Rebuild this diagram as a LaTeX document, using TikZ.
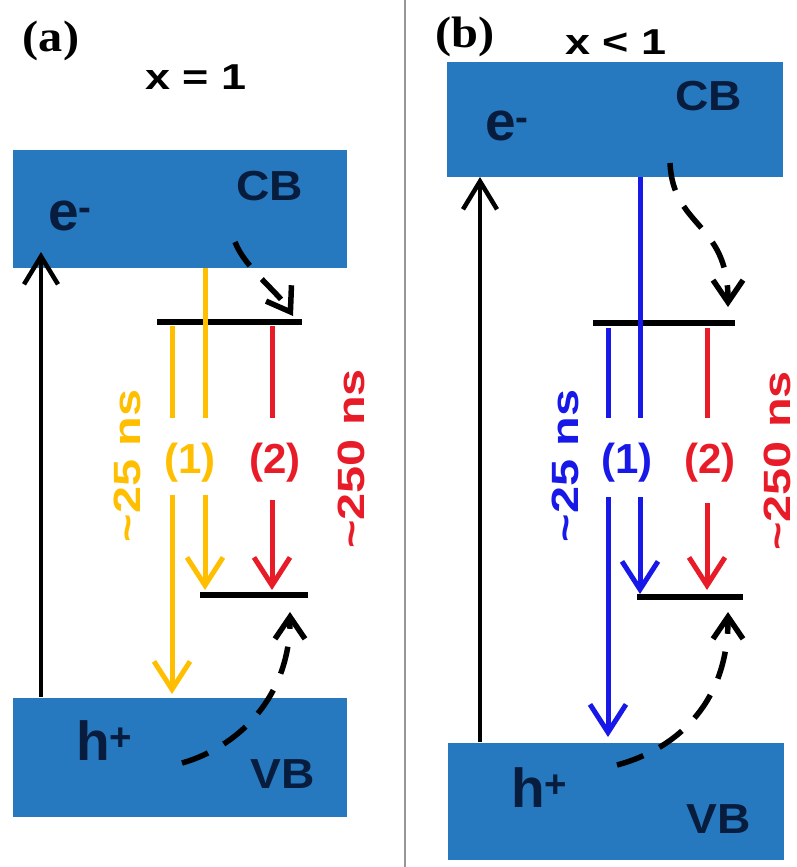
\documentclass[tikz,border=0pt]{standalone}
\usepackage{fontspec}
\setmainfont{Liberation Sans}
\newfontfamily\panelfont{Liberation Serif}
\usepackage{tikz}
\usetikzlibrary{arrows.meta}
\definecolor{band}{RGB}{38,121,191}
\definecolor{bandtxt}{RGB}{8,28,62}
\definecolor{yl}{RGB}{255,190,0}
\definecolor{rd}{RGB}{232,28,40}
\definecolor{bl}{RGB}{24,24,232}
\definecolor{divider}{RGB}{150,150,150}
\tikzstyle{bandbox}=[rectangle, fill=band, inner sep=0pt]
\tikzstyle{bandlab}=[inner sep=0pt, anchor=base west, text=bandtxt, xscale=1.1,
  font=\fontsize{42}{42}\selectfont\bfseries]
\tikzstyle{carrier}=[inner sep=0pt, anchor=base west, text=bandtxt,
  font=\fontsize{55}{55}\selectfont\bfseries]
\tikzstyle{panellab}=[inner sep=0pt, xscale=1.1, font=\panelfont\fontsize{44}{44}\selectfont\bfseries]
\tikzstyle{condlab}=[inner sep=0pt, anchor=base, xscale=1.25, font=\fontsize{36}{36}\selectfont\bfseries]
\tikzstyle{numlab}=[inner sep=0pt, font=\fontsize{42}{42}\selectfont\bfseries]
\tikzstyle{timelab}=[inner sep=0pt, rotate=90, xscale=1.28, font=\fontsize{38}{38}\selectfont\bfseries]
\tikzstyle{level}=[line width=6pt]
\tikzstyle{pump}=[line width=4.5pt, -{Straight Barb[length=28pt,width=34pt]}]
\tikzstyle{decay}=[line width=5pt]
\tikzstyle{decaytip}=[line width=5pt, -{Straight Barb[length=28pt,width=36pt]}]
\tikzstyle{capture}=[line width=5.5pt, dash pattern=on 28pt off 18pt, -{Straight Barb[length=22pt,width=30pt]}]

\begin{document}
\begin{tikzpicture}[x=1pt, y=-1pt]
  \useasboundingbox (0,0) rectangle (797,867);

  % divider
  \coordinate (divtop) at (405,0);
  \coordinate (divbot) at (405,867);
  \draw[divider, line width=1.2pt] (divtop) -- (divbot);

  %%%%% (a)
  \node[panellab] (pa) at (51,41) {(a)};
  \node[condlab] (xa) at (196,89) {x = 1};

  \node[bandbox, minimum width=334pt, minimum height=118pt] (cbA) at (180,209) {};
  \node[bandbox, minimum width=334pt, minimum height=119pt] (vbA) at (180,757.5) {};
  \node[carrier] (eA) at (48,230) {e\textsuperscript{-}};
  \node[bandlab] (cbtA) at (236,200) {CB};
  \node[carrier] (hA) at (76,760) {h\textsuperscript{+}};
  \node[bandlab] (vbtA) at (250,788) {VB};

  % levels
  \coordinate (tuA1) at (157,322);
  \coordinate (tuA2) at (302,322);
  \coordinate (tlA1) at (200,595);
  \coordinate (tlA2) at (308,595);
  \draw[level] (tuA1) -- (tuA2);
  \draw[level] (tlA1) -- (tlA2);

  % excitation
  \coordinate (exA1) at (41,697);
  \coordinate (exA2) at (41,252);
  \draw[pump] (exA1) -- (exA2);

  % (1) and (2)
  \coordinate (y1a) at (172,326);
  \coordinate (y1b) at (172,418);
  \coordinate (y1c) at (172,495);
  \coordinate (y1d) at (172,694);
  \coordinate (y2a) at (205,268);
  \coordinate (y2b) at (205,418);
  \coordinate (y2c) at (205,495);
  \coordinate (y2d) at (205,590);
  \coordinate (r1a) at (272,326);
  \coordinate (r1b) at (272,418);
  \coordinate (r1c) at (272,500);
  \coordinate (r1d) at (272,590);

  \foreach \a/\b in {y1a/y1b, y2a/y2b}
    \draw[decay, yl] (\a) -- (\b);
  \foreach \a/\b in {y1c/y1d, y2c/y2d}
    \draw[decaytip, yl] (\a) -- (\b);
  \draw[decay, rd] (r1a) -- (r1b);
  \draw[decaytip, rd] (r1c) -- (r1d);

  \node[numlab, text=yl] (n1A) at (190,463) {(1)};
  \node[numlab, text=rd] (n2A) at (275,463) {(2)};
  \node[timelab, text=yl] (tA1) at (127,466) {\textasciitilde25 ns};
  \node[timelab, text=rd] (tA2) at (351,459) {\textasciitilde250 ns};

  % trapping
  \coordinate (dA1) at (235,242);
  \coordinate (dA2) at (293,316);
  \coordinate (dA3) at (182,763);
  \coordinate (dA4) at (290,612);
  \draw[capture] (dA1) .. controls (245,268) and (278,292) .. (dA2);
  \draw[capture] (dA3) .. controls (235,748) and (290,700) .. (dA4);

  %%%%% (b)
  \node[panellab] (pb) at (465,37) {(b)};
  \node[condlab] (xb) at (616,55) {x < 1};

  \node[bandbox, minimum width=336pt, minimum height=115pt] (cbB) at (615,119.5) {};
  \node[bandbox, minimum width=336pt, minimum height=117pt] (vbB) at (615.5,801.5) {};
  \node[carrier] (eB) at (485,140) {e\textsuperscript{-}};
  \node[bandlab] (cbtB) at (675,110) {CB};
  \node[carrier] (hB) at (511,807) {h\textsuperscript{+}};
  \node[bandlab] (vbtB) at (686,833) {VB};

  % levels
  \coordinate (tuB1) at (593,323);
  \coordinate (tuB2) at (735,323);
  \coordinate (tlB1) at (637,597);
  \coordinate (tlB2) at (743,597);
  \draw[level] (tuB1) -- (tuB2);
  \draw[level] (tlB1) -- (tlB2);

  % excitation
  \coordinate (exB1) at (480,742);
  \coordinate (exB2) at (480,177);
  \draw[pump] (exB1) -- (exB2);

  % (1) and (2)
  \coordinate (b1a) at (608,328);
  \coordinate (b1b) at (608,418);
  \coordinate (b1c) at (608,497);
  \coordinate (b1d) at (608,737);
  \coordinate (b2a) at (640,177);
  \coordinate (b2b) at (640,418);
  \coordinate (b2c) at (640,497);
  \coordinate (b2d) at (640,594);
  \coordinate (r2a) at (707,328);
  \coordinate (r2b) at (707,418);
  \coordinate (r2c) at (707,503);
  \coordinate (r2d) at (707,590);

  \foreach \a/\b in {b1a/b1b, b2a/b2b}
    \draw[decay, bl] (\a) -- (\b);
  \foreach \a/\b in {b1c/b1d, b2c/b2d}
    \draw[decaytip, bl] (\a) -- (\b);
  \draw[decay, rd] (r2a) -- (r2b);
  \draw[decaytip, rd] (r2c) -- (r2d);

  \node[numlab, text=bl] (n1B) at (627,463) {(1)};
  \node[numlab, text=rd] (n2B) at (710,463) {(2)};
  \node[timelab, text=bl] (tB1) at (565,466) {\textasciitilde25 ns};
  \node[timelab, text=rd] (tB2) at (777,461) {\textasciitilde250 ns};

  % trapping
  \coordinate (dB1) at (670,163);
  \coordinate (dB2) at (728,307);
  \coordinate (dB3) at (617,765);
  \coordinate (dB4) at (728,612);
  \draw[capture] (dB1) .. controls (673,228) and (728,222) .. (dB2);
  \draw[capture] (dB3) .. controls (680,748) and (728,700) .. (dB4);

\end{tikzpicture}
\end{document}
